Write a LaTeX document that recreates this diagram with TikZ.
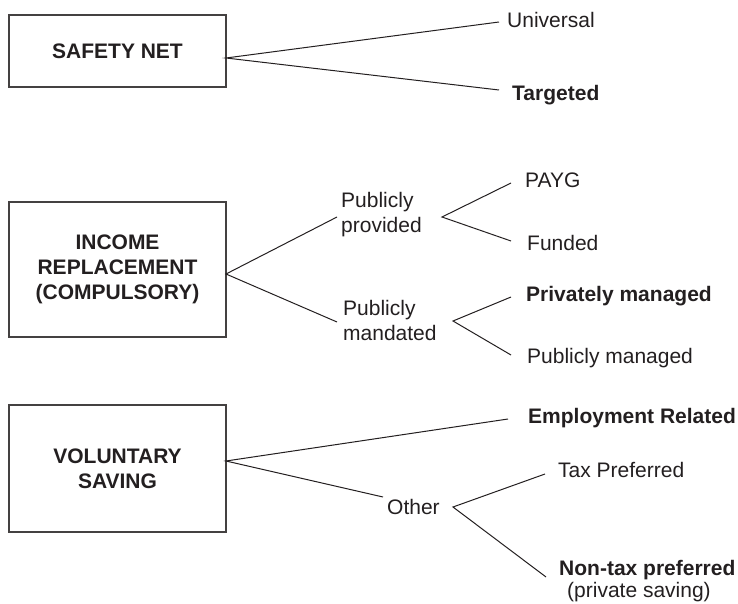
\documentclass[tikz,border=0pt]{standalone}
\usepackage{fontspec}
\setmainfont{Liberation Sans}
\definecolor{ink}{HTML}{231F20}
\begin{document}
\begin{tikzpicture}[x=1pt,y=-1pt,
  every node/.style={text=ink,inner sep=0pt,font=\fontsize{21}{25}\selectfont},
  catbox/.style={draw=ink!85,line width=1.3pt,minimum width=217pt,align=center,font=\fontsize{21}{25}\selectfont\bfseries},
  lbl/.style={anchor=west,align=left},
  blbl/.style={anchor=west,align=left,font=\fontsize{21}{25}\selectfont\bfseries},
  conn/.style={draw=ink,line width=1pt}]
\useasboundingbox (0,0) rectangle (738,604);
% boxes
\node[catbox,minimum height=72pt] (sn) at (117.5,51) {SAFETY NET};
\node[catbox,minimum height=135pt] (ir) at (117.5,269.5) {INCOME\\REPLACEMENT\\(COMPULSORY)};
\node[catbox,minimum height=127pt] (vs) at (117.5,468.5) {VOLUNTARY\\SAVING};
% labels
\node[lbl] (uni) at (507,20) {Universal};
\node[blbl] (tar) at (512,95) {Targeted};
\node[lbl] (pp) at (341,215) {Publicly\\provided};
\node[lbl] (pm) at (343,320) {Publicly\\mandated};
\node[lbl] (payg) at (525,180) {PAYG};
\node[lbl] (fund) at (527,243) {Funded};
\node[blbl] (priv) at (526,296) {Privately managed};
\node[lbl] (pubm) at (527,358) {Publicly managed};
\node[blbl] (emp) at (528,418) {Employment Related};
\node[lbl] (oth) at (387,507) {Other};
\node[lbl] (tax) at (558,470) {Tax Preferred};
\node[blbl] (ntax) at (559,570) {Non-tax preferred};
\node[lbl] (ps) at (567,592) {(private saving)};
% connector points
\coordinate (a0) at (226,58);
\coordinate (a1) at (499,22);
\coordinate (a2) at (499,90);
\coordinate (b0) at (226,274);
\coordinate (b1) at (337,217);
\coordinate (b2) at (337,322);
\coordinate (c0) at (442,217);
\coordinate (c1) at (511,183);
\coordinate (c2) at (511,241);
\coordinate (d0) at (453,321);
\coordinate (d1) at (511,297);
\coordinate (d2) at (511,355);
\coordinate (e0) at (226,461);
\coordinate (e1) at (508,419);
\coordinate (e2) at (383,497);
\coordinate (g0) at (453,507);
\coordinate (g1) at (545,474);
\coordinate (g2) at (546,577);
% connectors
\draw[conn] (a1) -- (a0) -- (a2);
\draw[conn] (b1) -- (b0) -- (b2);
\draw[conn] (c1) -- (c0) -- (c2);
\draw[conn] (d1) -- (d0) -- (d2);
\draw[conn] (e1) -- (e0) -- (e2);
\draw[conn] (g1) -- (g0) -- (g2);
\end{tikzpicture}
\end{document}
